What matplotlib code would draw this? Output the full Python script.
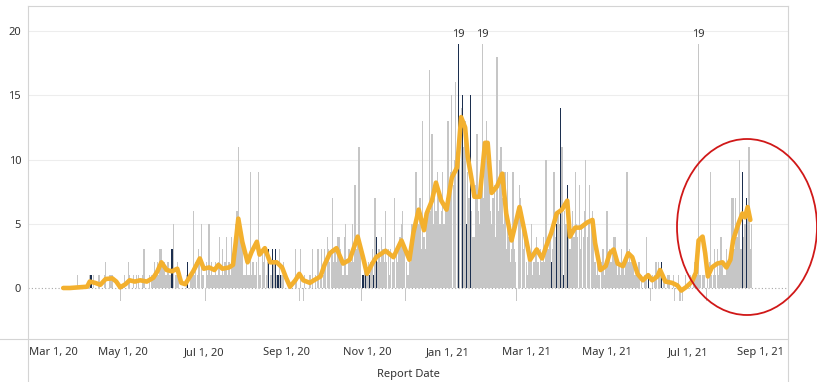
import matplotlib
matplotlib.use('Agg')
import matplotlib.pyplot as plt
import pandas as pd
from matplotlib.patches import Ellipse
from matplotlib.lines import Line2D
from matplotlib.transforms import ScaledTranslation

plt.rcParams['font.family'] = ['Noto Sans', 'DejaVu Sans']

# daily counts by report date, starting 2020-03-18
mar20 = [0,0,0,0,0,0,0,0,0,0,1,0,0,0]
apr20 = [0,0,0,0,0,1,1,0,1,0,0,0,1,0,0,0,1,2,0,0,1,1,1,0,0,0,0,0,-1,0]
may20 = [0,1,0,0,2,1,0,0,1,0,1,0,1,0,0,1,3,0,0,0,1,0,1,1,2,1,2,1,3,3,2]
jun20 = [2,1,1,2,1,1,3,5,0,1,2,1,0,0,0,0,0,1,2,0,1,1,6,1,2,1,3,2,5,1]
jul20 = [1,-1,2,1,5,1,2,1,1,2,1,2,4,1,3,1,2,4,1,2,1,4,2,2,5,6,11,5,4,3,1]
aug20 = [1,2,1,1,9,1,2,1,1,2,9,1,1,3,2,3,1,2,3,1,1,3,2,3,1,1,3,1,1,2,0]
sep20 = [0,0,0,0,0,0,0,3,1,0,-1,3,0,-1,1,0,0,0,1,0,3,0,1,0,3,0,1,3,1,3]
oct20 = [2,4,3,2,3,7,2,3,2,4,4,3,2,1,4,5,1,3,3,2,5,2,8,3,4,11,3,-1,1,2,1]
nov20 = [1,2,1,2,3,1,7,4,2,3,2,4,3,2,6,2,3,1,3,2,2,7,3,2,3,4,5,6,3,-1]
dec20 = [2,1,3,2,5,5,4,9,6,5,7,3,13,4,3,5,6,17,6,12,5,7,6,9,7,5,6,9,5,6,7]
jan21 = [13,7,9,15,8,10,16,11,19,12,14,15,11,13,5,9,7,15,6,4,4,8,12,6,5,9,19,7,11,13,10]
feb21 = [9,6,5,7,8,4,18,6,10,11,7,5,9,3,9,4,2,3,9,3,2,-1,6,8,7,5,3,4]
mar21 = [2,1,3,2,5,1,2,3,4,2,1,3,2,4,2,10,3,3,4,2,3,9,4,5,6,5,14,11,1,6,5]
apr21 = [8,5,3,4,6,4,9,5,4,8,3,5,4,6,10,4,5,8,5,6,5,2,1,2,1,0,2,3,1,2]
may21 = [6,2,3,2,3,4,4,2,1,2,1,3,2,1,2,9,2,3,2,2,2,1,1,1,2,0,1,0,1,1,4]
jun21 = [1,0,-1,1,0,1,2,0,2,1,2,0,1,0,0,1,1,0,0,1,-1,0,0,1,-1,0,-1,0,1,0]
jul21 = [0,0,1,0,1,2,1,1,19,1,0,1,1,0,-1,1,2,9,1,1,3,1,3,1,2,4,2,1,1,3,2]
aug21 = [2,2,7,7,3,7,4,5,10,3,9,4,5,7,6,11,3,5]

# days drawn in dark blue
dark_dates = ['2020-04-07','2020-06-07','2020-06-19','2020-08-19','2020-08-22',
              '2020-08-24','2020-08-26','2020-08-28','2020-10-29','2020-10-31',
              '2020-11-03','2020-11-06','2020-11-08','2021-01-09','2021-01-12',
              '2021-01-15','2021-01-18','2021-03-20','2021-03-24','2021-03-27',
              '2021-03-29','2021-04-01','2021-06-01','2021-06-11','2021-08-11',
              '2021-08-14']

# rolling average (orange line)
avg_dates = ['2020-03-17','2020-03-22','2020-03-29','2020-04-04','2020-04-06','2020-04-10',
             '2020-04-14','2020-04-18','2020-04-23','2020-04-26','2020-04-29','2020-05-03',
             '2020-05-06','2020-05-10','2020-05-14','2020-05-19','2020-05-24','2020-05-27',
             '2020-05-30','2020-06-03','2020-06-07','2020-06-11','2020-06-14','2020-06-17',
             '2020-06-20','2020-06-23','2020-06-28','2020-07-01','2020-07-05','2020-07-09',
             '2020-07-12','2020-07-15','2020-07-20','2020-07-23','2020-07-25','2020-07-27',
             '2020-07-30','2020-08-03','2020-08-06','2020-08-10','2020-08-12','2020-08-16',
             '2020-08-20','2020-08-25','2020-08-29','2020-09-01','2020-09-04','2020-09-08',
             '2020-09-11','2020-09-14','2020-09-19','2020-09-22','2020-09-27','2020-09-30',
             '2020-10-04','2020-10-09','2020-10-14','2020-10-19','2020-10-25','2020-10-29',
             '2020-11-01','2020-11-05','2020-11-08','2020-11-15','2020-11-21','2020-11-27',
             '2020-12-03','2020-12-06','2020-12-10','2020-12-14','2020-12-16','2020-12-20',
             '2020-12-23','2020-12-27','2020-12-31','2021-01-04','2021-01-08','2021-01-11',
             '2021-01-14','2021-01-16','2021-01-19','2021-01-21','2021-01-25','2021-01-29',
             '2021-01-31','2021-02-03','2021-02-07','2021-02-11','2021-02-14','2021-02-18',
             '2021-02-24','2021-02-28','2021-03-04','2021-03-09','2021-03-13','2021-03-17',
             '2021-03-20','2021-03-24','2021-03-28','2021-04-01','2021-04-03','2021-04-07',
             '2021-04-11','2021-04-16','2021-04-20','2021-04-22','2021-04-26','2021-04-30',
             '2021-05-03','2021-05-06','2021-05-09','2021-05-13','2021-05-17','2021-05-20',
             '2021-05-24','2021-05-28','2021-06-01','2021-06-04','2021-06-08','2021-06-10',
             '2021-06-14','2021-06-19','2021-06-23','2021-06-26','2021-06-30','2021-07-04',
             '2021-07-07','2021-07-09','2021-07-12','2021-07-14','2021-07-16','2021-07-19',
             '2021-07-23','2021-07-27','2021-07-30','2021-08-02','2021-08-04','2021-08-08',
             '2021-08-11','2021-08-13','2021-08-15','2021-08-17']
avg_values = [0,0,0.05,0.1,0.5,0.4,
              0.25,0.7,0.75,0.5,0.05,0.3,
              0.6,0.5,0.6,0.5,0.8,1.3,
              2.0,1.4,1.3,1.5,0.4,0.3,
              0.8,1.3,2.3,1.5,1.6,1.4,
              1.8,1.5,1.6,1.8,3.5,5.4,
              3.6,2.0,2.8,3.6,2.6,3.1,
              2.0,2.0,1.6,0.8,0.1,0.6,
              1.1,0.6,0.4,0.6,0.9,1.8,
              2.7,3.1,1.9,2.2,4.0,2.4,
              1.1,1.9,2.4,2.9,2.4,3.7,
              2.2,4.3,6.1,4.5,5.8,6.8,
              8.2,6.8,6.1,8.6,9.4,13.3,
              12.5,10.2,8.4,7.1,7.1,11.3,
              11.3,7.4,7.9,8.9,5.8,3.7,
              6.3,4.3,2.2,3.0,2.3,3.5,
              4.3,5.8,6.1,6.8,4.0,4.7,
              4.7,5.1,5.3,3.5,1.4,1.7,
              2.7,3.0,1.9,1.7,2.7,2.4,
              1.1,0.6,1.0,0.6,0.9,1.4,
              0.5,0.4,0.2,-0.2,0.1,0.5,
              1.2,3.7,4.0,2.7,0.9,1.6,
              1.9,2.0,1.6,2.2,3.7,5.0,
              5.8,5.5,6.3,5.3]

tick_dates = ['2020-03-01','2020-05-01','2020-07-01','2020-09-01','2020-11-01',
              '2021-01-01','2021-03-01','2021-05-01','2021-07-01','2021-09-01']
tick_labels = ['Mar 1, 20','May 1, 20','Jul 1, 20','Sep 1, 20','Nov 1, 20',
               'Jan 1, 21','Mar 1, 21','May 1, 21','Jul 1, 21','Sep 1, 21']

daily = (mar20 + apr20 + may20 + jun20 + jul20 + aug20 + sep20 + oct20 + nov20 + dec20
         + jan21 + feb21 + mar21 + apr21 + may21 + jun21 + jul21 + aug21)
df = pd.DataFrame({'date': pd.date_range('2020-03-18', periods=len(daily), freq='D'),
                   'n': daily})
df['dark'] = df['date'].isin(pd.to_datetime(dark_dates))

W, H = 817, 382
fig = plt.figure(figsize=(W / 100, H / 100), dpi=100)
ax = fig.add_axes([28 / W, 1 - 339 / H, (788 - 28) / W, (339 - 6) / H])

grey = df[~df['dark']]
dark = df[df['dark']]
ax.bar(grey['date'], grey['n'], width=0.95, color='#c6c6c6', linewidth=0, zorder=2)
ax.bar(dark['date'], dark['n'], width=0.9, color='#1c2f4f', linewidth=0, zorder=3)
ax.plot(pd.to_datetime(avg_dates), avg_values, color='#f3b02e', lw=3.3,
        solid_joinstyle='round', solid_capstyle='round', zorder=4)

# value labels on the tallest bars
top = df['n'].max()
for d, v in zip(df['date'], df['n']):
    if v == top:
        ax.annotate(str(v), (d, v), xytext=(0, 2.5), textcoords='offset points',
                    ha='center', va='bottom', fontsize=8, color='#333333')

ax.set_xlim(pd.Timestamp('2020-02-19 11:00'), pd.Timestamp('2021-09-14 10:00'))
ax.set_ylim(-3.97, 21.95)
yt = [0, 5, 10, 15, 20]
ax.set_yticks(yt)
for y in yt[1:]:
    ax.axhline(y, color='#ededed', lw=0.8, zorder=0)
ax.axhline(0, color='#a8a8a8', lw=0.8, ls=(0, (1, 2)), zorder=1)
ax.tick_params(axis='y', length=0, pad=5, labelsize=8, labelcolor='#333333')
ax.set_xticks([])
for s in ax.spines.values():
    s.set_visible(False)

xtexts = []
for d, lab in zip(tick_dates, tick_labels):
    xtexts.append(ax.text(pd.Timestamp(d), -0.0405, lab, transform=ax.get_xaxis_transform(),
                          ha='center', va='center', fontsize=8, color='#333333'))

# keep end labels inside the pane like tableau does
fig.canvas.draw()
r = fig.canvas.get_renderer()
axbox = ax.get_window_extent(r)
for t in xtexts:
    bb = t.get_window_extent(r)
    dx = 0
    if bb.x0 < axbox.x0:
        dx = axbox.x0 + 1 - bb.x0
    elif bb.x1 > axbox.x1:
        dx = axbox.x1 - 4 - bb.x1
    if dx:
        t.set_transform(t.get_transform() + ScaledTranslation(dx / fig.dpi, 0, fig.dpi_scale_trans))

fig.text(408 / W, 1 - 374 / H, 'Report Date', ha='center', va='center',
         fontsize=8, color='#333333')

# pane borders
lc = '#d4d4d4'
for x0, y0, x1, y1 in [(28, 6, 788, 6), (28, 6, 28, H), (788, 6, 788, H), (0, 339, 788, 339)]:
    fig.add_artist(Line2D([x0 / W, x1 / W], [1 - y0 / H, 1 - y1 / H],
                          transform=fig.transFigure, color=lc, lw=0.8))

# red hand circle
fig.add_artist(Ellipse((747 / W, 1 - 227 / H), 140 / W, 176 / H, transform=fig.transFigure,
                       fill=False, ec='#d01818', lw=1.3, zorder=10))

fig.savefig('out.png', dpi=100, facecolor='white')
